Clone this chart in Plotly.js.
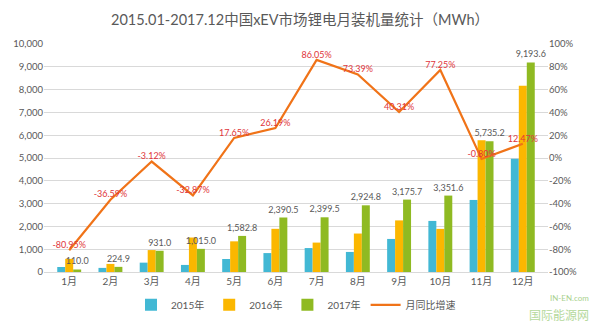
<!DOCTYPE html>
<html>
<head>
<meta charset="utf-8">
<script src="https://cdn.plot.ly/plotly-3.0.1.min.js"></script>
<style>html,body{margin:0;padding:0;background:#fff;}#chart{width:600px;height:325px;}</style>
</head>
<body>
<div id="chart"></div>
<script>
const months = ['1月','2月','3月','4月','5月','6月','7月','8月','9月','10月','11月','12月'];
const v2015 = [220, 180, 410, 310, 570, 830, 1050, 880, 1450, 2240, 3160, 4970];
const v2016 = [577, 355, 961, 1512, 1345, 1894, 1290, 1687, 2263, 1891, 5781, 8174];
const v2017 = [110.0, 224.9, 931.0, 1015.0, 1582.8, 2390.5, 2399.5, 2924.8, 3175.7, 3351.6, 5735.2, 9193.6];
const growth = [-80.95, -36.59, -3.12, -32.87, 17.65, 26.19, 86.05, 73.39, 40.31, 77.25, -0.80, 12.47];
const seriesNames = ['2015年', '2016年', '2017年', '月同比增速'];
const leftTicks = [0,1000,2000,3000,4000,5000,6000,7000,8000,9000,10000];
const rightTicks = [-100,-80,-60,-40,-20,0,20,40,60,80,100];

const fnt = 'Lato, "Noto Sans CJK SC", sans-serif';
const fmt = v => v.toLocaleString('en-US', {minimumFractionDigits:1, maximumFractionDigits:1});

const traces = [
  {type:'bar', name:seriesNames[0], x:months, y:v2015, marker:{color:'#42B8D4'}, hoverinfo:'y'},
  {type:'bar', name:seriesNames[1], x:months, y:v2016, marker:{color:'#FBB700'}, hoverinfo:'y'},
  {type:'bar', name:seriesNames[2], x:months, y:v2017, marker:{color:'#8FBA22'},
   text:v2017.map(fmt), textposition:'outside', cliponaxis:false, constraintext:'none',
   textfont:{family:fnt, size:9, color:'#595959'}},
  {type:'scatter', mode:'lines+text', name:seriesNames[3], x:months, y:growth, yaxis:'y2',
   line:{color:'#F07318', width:2.2}, text:growth.map(g=>g.toFixed(2)+'%'),
   textposition:'top center', cliponaxis:false,
   textfont:{family:fnt, size:9, color:'#E0353A'}}
];

const layout = {
  width:600, height:325,
  margin:{l:44, r:52, t:44, b:53, autoexpand:false},
  paper_bgcolor:'#fff', plot_bgcolor:'#fff',
  font:{family:fnt, color:'#595959', size:10},
  title:{text:'2015.01-2017.12中国xEV市场锂电月装机量统计（MWh）', x:0.5, xanchor:'center', y:0.94, yanchor:'middle',
         font:{family:fnt, size:14.5, color:'#595959'}},
  barmode:'group', bargap:0.42, bargroupgap:0,
  showlegend:true,
  legend:{orientation:'h', x:0.5, xanchor:'center', yref:'container', y:0.062, yanchor:'middle',
          font:{size:10, color:'#595959'}, itemwidth:30, traceorder:'normal'},
  xaxis:{type:'category', showgrid:false, showline:true, linecolor:'#D9D9D9', linewidth:1, ticks:'',
         tickfont:{size:10, color:'#595959'}},
  yaxis:{range:[0,10000], tickvals:leftTicks, tickformat:',', showgrid:true, gridcolor:'#D9D9D9',
         zeroline:false, showline:false, ticks:'', tickfont:{size:9.5, color:'#595959'}},
  yaxis2:{overlaying:'y', side:'right', range:[-100,100], tickvals:rightTicks,
          ticktext:rightTicks.map(t=>t+'%'), showgrid:false, zeroline:false, showline:false, ticks:'',
          tickfont:{size:9.5, color:'#595959'}},
  annotations:[
    {text:'IN-EN.com', xref:'paper', yref:'paper', x:1.085, y:-0.085, xanchor:'right', yanchor:'top',
     showarrow:false, font:{size:8, color:'#A9D18E'}},
    {text:'国际能源网', xref:'paper', yref:'paper', x:1.085, y:-0.15, xanchor:'right', yanchor:'top',
     showarrow:false, font:{size:12, color:'#B5D99C'}}
  ]
};

Plotly.newPlot('chart', traces, layout, {displayModeBar:false, staticPlot:true});
</script>
</body>
</html>
